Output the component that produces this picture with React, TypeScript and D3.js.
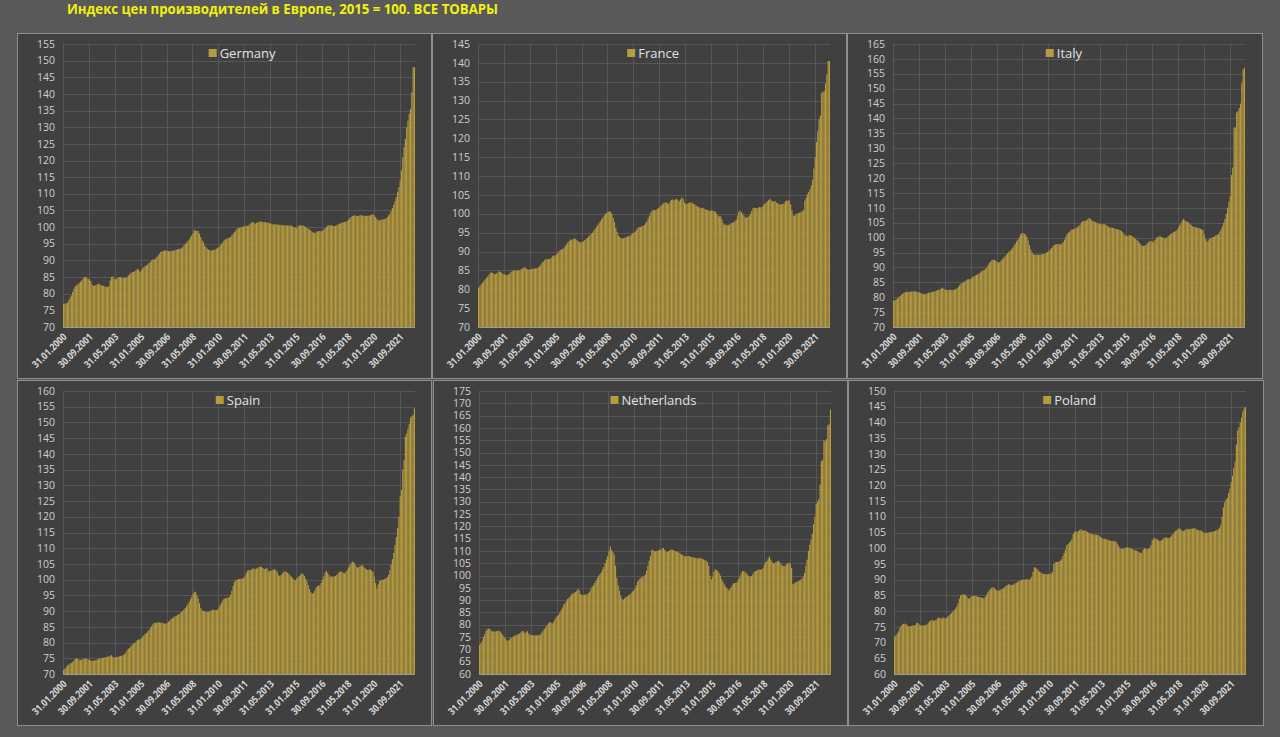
import React from 'react';
import * as d3 from 'd3';

// monthly PPI, 2015 = 100, Jan 2000 .. Aug 2022
const germany = [
    77.0, 77.0, 77.1, 77.3, 78.0, 78.8, 79.5, 80.5, 81.5, 82.2, 82.5, 82.8,
    83.2, 83.6, 84.0, 84.5, 85.0, 85.0, 84.7, 84.5, 84.3, 83.8, 82.8, 82.3,
    82.5, 82.5, 82.8, 83.0, 82.8, 82.5, 82.5, 82.3, 82.2, 82.0, 82.0, 82.3,
    84.0, 85.0, 85.2, 84.5, 84.3, 84.5, 84.8, 85.0, 85.0, 84.8, 84.7, 84.8,
    84.8, 85.0, 85.5, 85.8, 86.2, 86.5, 86.5, 86.8, 87.0, 87.5, 87.2, 86.5,
    87.0, 87.5, 88.0, 88.3, 88.5, 88.8, 89.2, 89.5, 90.0, 90.3, 90.3, 90.5,
    91.0, 91.5, 92.0, 92.5, 92.8, 92.8, 93.0, 93.0, 92.8, 92.8, 92.8, 92.8,
    92.8, 93.0, 93.0, 93.2, 93.3, 93.5, 93.5, 93.6, 94.0, 94.5, 95.0, 95.3,
    95.8, 96.3, 97.0, 97.5, 98.2, 99.0, 99.0, 98.8, 98.8, 98.0, 97.0, 96.0,
    95.5, 94.5, 94.0, 93.5, 93.2, 93.0, 93.0, 93.0, 93.2, 93.2, 93.5, 93.8,
    94.0, 94.5, 95.0, 95.5, 96.0, 96.3, 96.5, 96.7, 96.8, 97.0, 97.5, 98.0,
    98.5, 99.0, 99.5, 99.8, 99.8, 100.0, 100.0, 100.2, 100.3, 100.5, 100.3, 100.5,
    101.0, 101.3, 101.5, 101.3, 101.0, 101.2, 101.5, 101.6, 101.7, 101.6, 101.5, 101.5,
    101.5, 101.4, 101.3, 101.2, 101.0, 101.0, 100.8, 100.8, 100.9, 100.8, 100.7, 100.7,
    100.6, 100.6, 100.5, 100.5, 100.5, 100.5, 100.5, 100.5, 100.4, 100.2, 100.0, 99.8,
    99.7, 100.2, 100.5, 100.5, 100.5, 100.5, 100.3, 100.0, 99.8, 99.5, 99.3, 99.0,
    98.6, 98.3, 98.3, 98.4, 98.7, 98.8, 98.8, 98.8, 98.9, 99.3, 99.6, 100.0,
    100.5, 100.6, 100.5, 100.5, 100.4, 100.3, 100.4, 100.5, 100.8, 101.0, 101.2, 101.3,
    101.5, 101.5, 101.6, 101.8, 102.2, 102.6, 103.0, 103.3, 103.5, 103.5, 103.4, 103.3,
    103.4, 103.5, 103.6, 103.5, 103.4, 103.4, 103.4, 103.4, 103.4, 103.6, 103.7, 103.9,
    103.5, 103.0, 102.5, 102.0, 102.0, 102.2, 102.3, 102.3, 102.4, 102.6, 103.0, 103.5,
    104.0, 104.8, 105.7, 106.7, 107.8, 109.0, 110.5, 112.0, 114.0, 117.0, 121.0, 124.0,
    126.5, 130.0, 132.0, 134.0, 135.5, 140.5, 148.0, 148.0,
];

const france = [
    80.3, 80.8, 81.3, 81.7, 82.2, 82.6, 83.0, 83.4, 83.8, 84.3, 84.5, 84.3,
    84.0, 84.0, 84.2, 84.5, 84.8, 84.6, 84.3, 84.0, 84.0, 83.8, 83.8, 83.9,
    84.2, 84.5, 84.8, 84.9, 85.0, 84.9, 85.0, 85.0, 85.1, 85.3, 85.6, 85.8,
    85.8, 85.5, 85.2, 85.2, 85.3, 85.4, 85.4, 85.5, 85.5, 85.6, 85.8, 86.0,
    86.5, 87.0, 87.3, 87.7, 88.0, 88.0, 88.0, 88.0, 88.3, 88.7, 89.0, 88.8,
    89.2, 89.5, 90.0, 90.4, 90.5, 90.7, 91.0, 91.5, 92.0, 92.5, 92.8, 93.2,
    93.0, 93.3, 93.5, 93.3, 93.0, 92.7, 92.5, 92.5, 92.5, 92.7, 93.0, 93.3,
    93.6, 94.0, 94.3, 94.7, 95.0, 95.5, 96.0, 96.5, 97.0, 97.5, 98.0, 98.6,
    99.0, 99.5, 100.0, 100.3, 100.6, 100.7, 100.5, 100.0, 99.0, 97.8, 96.3, 95.2,
    94.3, 93.8, 93.6, 93.5, 93.5, 93.7, 93.8, 94.0, 94.0, 94.2, 94.5, 94.8,
    95.0, 95.3, 95.8, 96.2, 96.5, 96.5, 96.7, 96.8, 97.0, 97.5, 98.0, 98.8,
    99.5, 100.3, 100.8, 101.0, 101.0, 101.0, 101.3, 101.5, 101.8, 102.2, 102.5, 102.8,
    103.0, 103.0, 102.8, 102.5, 103.3, 103.7, 103.8, 103.6, 103.8, 104.0, 103.6, 103.3,
    103.8, 104.3, 104.0, 103.0, 102.6, 102.7, 102.8, 103.0, 103.0, 102.9, 102.6, 102.5,
    102.2, 102.0, 101.8, 101.6, 101.5, 101.6, 101.4, 101.2, 101.0, 101.0, 100.8, 100.8,
    100.9, 100.8, 100.7, 100.5, 100.0, 99.5, 99.3, 99.3, 98.5, 97.5, 97.0, 97.2,
    97.0, 97.0, 97.2, 97.5, 97.6, 97.8, 98.0, 98.5, 99.5, 100.5, 100.8, 100.5,
    100.0, 99.5, 99.0, 99.0, 99.2, 99.5, 100.0, 100.8, 101.5, 101.6, 101.5, 101.5,
    101.6, 101.8, 101.7, 101.8, 102.2, 102.6, 103.0, 103.3, 103.6, 104.0, 103.6, 103.2,
    103.3, 103.4, 103.0, 102.8, 102.6, 102.5, 102.5, 102.6, 102.7, 103.3, 103.5, 103.5,
    103.5, 102.5, 101.0, 99.5, 99.5, 99.8, 100.0, 100.2, 100.3, 100.5, 100.7, 101.0,
    103.5, 104.3, 105.2, 105.8, 106.5, 107.5, 109.0, 112.0, 115.0, 119.0, 122.0, 125.0,
    126.0, 132.0, 132.3, 132.5, 134.5, 137.0, 140.5, 140.5,
];

const italy = [
    78.8, 79.0, 79.3, 79.6, 80.0, 80.4, 80.8, 81.2, 81.5, 81.7, 81.8, 81.8,
    81.8, 81.8, 81.9, 82.0, 82.0, 81.9, 81.8, 81.7, 81.6, 81.4, 81.2, 81.1,
    81.0, 81.1, 81.3, 81.5, 81.6, 81.7, 81.8, 81.9, 82.0, 82.2, 82.4, 82.5,
    82.6, 83.0, 83.2, 82.8, 82.5, 82.4, 82.4, 82.5, 82.5, 82.4, 82.4, 82.5,
    82.7, 83.0, 83.5, 84.0, 84.5, 84.8, 85.0, 85.3, 85.6, 86.0, 86.0, 86.0,
    86.3, 86.7, 87.0, 87.3, 87.5, 87.7, 88.0, 88.3, 88.7, 89.0, 89.2, 89.5,
    90.0, 90.8, 91.5, 92.0, 92.5, 92.7, 92.5, 92.2, 91.8, 91.6, 91.8, 92.2,
    92.7, 93.2, 93.7, 94.2, 94.7, 95.2, 95.6, 96.0, 96.6, 97.3, 98.0, 98.7,
    99.3, 100.0, 101.0, 101.5, 101.5, 101.3, 101.0, 100.2, 99.0, 97.5, 96.0, 95.0,
    94.5, 94.2, 94.2, 94.3, 94.2, 94.3, 94.3, 94.5, 94.5, 94.6, 95.0, 95.2,
    95.5, 96.0, 96.5, 97.0, 97.5, 97.7, 97.8, 97.8, 97.8, 97.7, 98.0, 98.5,
    99.3, 100.3, 101.2, 101.6, 102.0, 102.5, 102.8, 102.8, 103.0, 103.3, 103.5, 103.8,
    104.3, 105.0, 105.5, 105.6, 105.6, 105.8, 106.2, 106.6, 106.3, 105.8, 105.5, 105.4,
    105.2, 105.0, 104.8, 104.7, 104.5, 104.5, 104.5, 104.5, 104.3, 104.0, 103.6, 103.4,
    103.4, 103.3, 103.2, 103.0, 103.0, 102.8, 102.7, 102.5, 102.3, 101.8, 101.2, 100.8,
    100.5, 100.6, 100.8, 100.8, 100.6, 100.3, 100.0, 99.6, 99.2, 98.8, 98.2, 97.7,
    97.3, 97.2, 97.3, 97.6, 98.0, 98.5, 98.8, 98.8, 98.6, 98.7, 99.2, 99.8,
    100.2, 100.5, 100.4, 100.2, 100.0, 99.8, 99.8, 100.0, 100.4, 100.8, 101.2, 101.5,
    101.8, 102.0, 102.2, 102.6, 103.3, 104.2, 104.8, 105.8, 106.3, 105.8, 105.5, 105.3,
    105.0, 104.6, 104.2, 103.8, 103.6, 103.5, 103.4, 103.3, 103.2, 103.0, 102.8, 102.5,
    101.0, 99.5, 98.6, 99.0, 99.5, 99.8, 100.0, 100.2, 100.5, 100.8, 101.0, 101.2,
    102.0, 102.8, 103.8, 105.0, 106.3, 108.0, 110.0, 112.0, 114.0, 121.0, 123.5, 137.0,
    137.0, 142.0, 142.5, 143.5, 145.0, 152.0, 156.5, 157.0,
];

const spain = [
    71.3, 71.7, 72.2, 72.7, 73.0, 73.3, 73.5, 73.8, 74.3, 74.8, 75.0, 74.8,
    74.5, 74.4, 74.6, 74.7, 74.8, 75.0, 74.8, 74.6, 74.5, 74.3, 74.2, 74.2,
    74.3, 74.4, 74.6, 74.8, 75.0, 75.0, 75.1, 75.2, 75.3, 75.4, 75.5, 75.6,
    75.8, 76.0, 75.5, 75.2, 75.3, 75.4, 75.5, 75.6, 75.7, 75.8, 76.0, 76.3,
    76.8, 77.5, 78.0, 78.3, 78.8, 79.3, 79.7, 79.8, 80.3, 80.8, 81.0, 81.0,
    81.3, 81.8, 82.3, 82.8, 83.0, 83.5, 84.0, 84.6, 85.2, 85.8, 86.2, 86.3,
    86.3, 86.5, 86.4, 86.3, 86.3, 86.2, 86.0, 86.0, 86.2, 86.6, 87.0, 87.4,
    87.7, 88.0, 88.3, 88.5, 88.8, 89.0, 89.3, 89.7, 90.0, 90.5, 91.0, 91.6,
    92.2, 93.0, 93.8, 94.6, 95.5, 96.2, 96.0, 95.0, 94.0, 92.5, 91.0, 90.3,
    90.1, 90.0, 89.8, 89.7, 89.8, 90.0, 90.2, 90.4, 90.4, 90.3, 90.3, 90.5,
    91.2, 92.0, 92.7, 93.5, 94.0, 94.0, 94.2, 94.3, 94.5, 95.2, 96.5, 98.0,
    99.3, 99.8, 100.0, 100.2, 100.2, 100.3, 100.4, 100.6, 101.0, 102.0, 102.8, 103.0,
    103.0, 103.2, 103.5, 103.6, 103.3, 103.5, 103.8, 104.0, 104.2, 104.0, 103.7, 103.3,
    103.5, 103.8, 103.0, 102.6, 102.8, 103.0, 103.2, 103.3, 103.0, 102.5, 101.4, 101.2,
    101.5, 102.0, 102.5, 102.6, 102.5, 102.2, 101.8, 101.3, 101.0, 100.5, 100.0, 99.8,
    100.3, 100.8, 101.2, 101.5, 102.0, 101.8, 101.2, 100.3, 99.5, 98.3, 97.0, 96.0,
    95.5, 95.8, 96.5, 97.5, 98.0, 98.0, 98.3, 99.0, 100.0, 101.0, 102.3, 102.8,
    102.2, 101.5, 101.0, 101.0, 101.0, 101.0, 101.2, 101.5, 102.0, 102.5, 102.6, 102.5,
    102.2, 102.0, 102.5, 103.0, 103.8, 104.5, 105.2, 105.8, 105.6, 105.0, 104.2, 103.8,
    104.0, 104.3, 104.5, 104.6, 104.0, 103.6, 103.3, 103.0, 103.2, 103.3, 102.8, 102.5,
    101.0, 99.0, 97.2, 98.5, 99.5, 99.8, 100.0, 100.0, 100.2, 100.5, 100.8, 101.5,
    103.0, 104.8, 106.5, 108.5, 111.0, 113.5, 116.5, 120.0, 126.5, 128.5, 135.0, 138.0,
    145.5, 146.5, 148.0, 149.5, 151.5, 152.0, 152.5, 154.5,
];

const netherlands = [
    71.8, 72.5, 73.5, 75.0, 76.2, 77.5, 78.2, 78.5, 78.3, 77.6, 77.3, 77.3,
    77.3, 77.4, 77.5, 77.6, 77.2, 76.5, 75.8, 75.0, 74.3, 73.6, 73.5, 74.0,
    74.5, 74.8, 75.2, 75.5, 75.8, 76.0, 76.2, 76.5, 77.0, 77.5, 77.3, 76.5,
    77.0, 77.5, 76.5, 76.0, 75.8, 75.8, 75.8, 75.6, 75.7, 75.9, 75.8, 76.0,
    76.8, 77.5, 78.2, 79.0, 79.8, 80.5, 81.0, 81.0, 80.5, 81.0, 82.0, 83.0,
    83.5, 84.0, 85.0, 86.0, 87.0, 88.3, 88.6, 89.5, 90.5, 91.0, 91.5, 92.3,
    92.8, 93.0, 93.3, 93.8, 94.5, 94.0, 92.5, 92.2, 92.0, 92.2, 92.3, 92.5,
    92.8, 93.5, 94.5, 95.5, 96.2, 97.0, 98.0, 99.0, 100.0, 100.5, 101.3, 102.5,
    103.5, 105.0, 106.5, 108.0, 110.0, 111.8, 110.5, 109.5, 108.5, 104.0, 99.0, 96.0,
    94.0, 92.0, 90.5, 90.2, 90.8, 91.3, 91.5, 92.0, 92.3, 92.8, 93.5, 94.0,
    94.5, 96.0, 97.5, 98.3, 98.8, 99.3, 99.5, 99.7, 100.5, 102.0, 104.0, 106.0,
    108.0, 110.5, 110.3, 110.0, 109.8, 110.0, 110.2, 110.5, 110.5, 111.0, 111.2, 110.5,
    109.8, 109.5, 110.0, 110.3, 110.6, 110.5, 110.3, 110.0, 109.8, 109.6, 109.3, 109.0,
    108.5, 108.3, 108.0, 107.8, 107.8, 107.9, 108.0, 107.6, 107.5, 107.4, 107.3, 107.2,
    107.0, 107.0, 107.2, 107.0, 106.8, 106.5, 106.3, 106.0, 105.5, 104.0, 100.0, 98.5,
    99.5, 101.5, 102.5, 102.3, 101.8, 101.0, 100.0, 98.5, 97.5, 96.5, 95.5, 94.8,
    94.3, 94.0, 95.0, 96.0, 96.8, 97.0, 97.0, 97.5, 98.5, 99.5, 100.8, 101.8,
    101.8, 101.5, 101.0, 100.3, 99.8, 99.5, 99.8, 100.5, 101.3, 101.8, 102.0, 102.3,
    102.5, 102.3, 102.6, 103.0, 104.5, 105.5, 106.0, 107.0, 107.8, 106.5, 105.5, 105.0,
    105.0, 105.5, 105.8, 106.0, 105.2, 104.5, 104.0, 103.8, 104.0, 104.5, 105.0, 105.2,
    104.8, 103.0, 96.5, 96.8, 97.2, 97.5, 97.8, 98.0, 98.3, 98.8, 99.5, 101.0,
    104.0, 106.5, 110.0, 112.5, 114.5, 117.0, 121.0, 124.0, 129.0, 130.0, 131.0, 137.0,
    146.5, 147.0, 155.0, 154.5, 155.5, 161.0, 161.5, 167.5,
];

const poland = [
    71.8, 72.3, 72.8, 73.5, 74.5, 75.3, 75.7, 76.0, 76.0, 75.8, 75.4, 75.2,
    75.2, 75.3, 75.4, 75.5, 75.6, 76.2, 76.3, 75.8, 75.5, 75.4, 75.5, 75.5,
    75.6, 75.8, 76.2, 76.8, 77.0, 77.1, 77.0, 77.0, 77.2, 77.6, 78.0, 77.8,
    77.6, 77.8, 78.0, 77.6, 77.8, 78.2, 78.6, 79.0, 79.4, 79.8, 80.3, 80.8,
    81.5, 82.5, 84.0, 85.0, 85.2, 85.3, 85.3, 85.0, 84.5, 84.0, 84.0, 84.5,
    84.8, 84.8, 84.9, 84.8, 84.6, 84.5, 84.5, 84.3, 84.2, 84.0, 84.5, 85.2,
    86.0, 86.5, 87.0, 87.5, 87.6, 87.4, 87.0, 86.6, 86.5, 86.6, 86.8, 87.0,
    87.3, 87.6, 88.0, 88.3, 88.5, 88.5, 88.3, 88.3, 88.5, 88.8, 89.0, 89.3,
    89.5, 89.7, 89.9, 90.0, 90.0, 90.0, 90.2, 90.0, 90.0, 90.3, 91.0, 92.5,
    94.0, 93.8, 93.5, 93.0, 92.5, 92.3, 92.0, 91.8, 91.8, 91.8, 91.7, 91.8,
    91.9, 92.0, 92.5, 95.0, 95.5, 95.6, 95.6, 95.8, 96.0, 96.5, 97.5, 98.5,
    99.5, 101.0, 101.3, 101.8, 102.2, 103.0, 104.5, 105.2, 105.4, 105.0, 105.5, 105.8,
    106.0, 105.7, 105.5, 105.8, 105.5, 105.2, 104.9, 104.7, 104.5, 104.4, 104.4, 104.3,
    104.3, 104.2, 104.0, 103.6, 103.3, 103.0, 103.0, 103.0, 102.8, 102.6, 102.5, 102.4,
    102.3, 102.2, 102.3, 102.0, 101.5, 100.8, 100.0, 99.8, 99.8, 99.9, 100.0, 100.3,
    100.3, 100.2, 100.0, 99.8, 99.7, 99.5, 99.3, 99.2, 99.0, 98.7, 98.5, 98.6,
    99.5, 100.0, 99.8, 99.7, 99.8, 100.2, 101.0, 102.5, 103.0, 103.3, 103.0, 102.8,
    102.5, 102.3, 102.5, 102.8, 103.2, 103.5, 103.3, 103.3, 103.2, 103.5, 104.0, 104.5,
    105.0, 105.5, 105.8, 106.2, 106.3, 106.0, 105.6, 105.5, 105.7, 106.0, 106.2, 106.0,
    106.1, 106.2, 106.3, 106.3, 106.4, 106.0, 105.8, 105.7, 105.6, 105.6, 105.3, 105.0,
    104.8, 104.9, 105.0, 105.0, 105.1, 105.2, 105.3, 105.4, 105.6, 105.8, 106.0, 106.5,
    107.5, 110.0, 113.0, 114.5, 115.5, 116.0, 117.5, 119.0, 121.0, 123.0, 125.5, 127.5,
    133.0, 137.5, 138.5, 140.0, 141.5, 143.5, 144.5, 145.0,
];

const tickLabels = [
    '31.01.2000', '30.09.2001', '31.05.2003', '31.01.2005', '30.09.2006', '31.05.2008', '31.01.2010',
    '30.09.2011', '31.05.2013', '31.01.2015', '30.09.2016', '31.05.2018', '31.01.2020', '30.09.2021',
];
const tickStep = 20; // one label every 20 months

const countries = ['Germany', 'France', 'Italy', 'Spain', 'Netherlands', 'Poland'];
const seriesList = [germany, france, italy, spain, netherlands, poland];
const yDomains: [number, number][] = [[70, 155], [70, 145], [70, 165], [70, 160], [60, 175], [60, 150]];

const title = 'Индекс цен производителей в Европе, 2015 = 100. ВСЕ ТОВАРЫ';

const W = 1280;
const H = 737;
const font = '"Open Sans", "Noto Sans", sans-serif';

// panel frames (grid of 3 x 2)
const colX = [17, 432, 847];
const colW = [415, 415, 416];
const rowY = [33, 380];
const rowH = 346;

const Panel = ({ idx }: { idx: number }) => {
    const col = idx % 3;
    const row = Math.floor(idx / 3);
    const px = colX[col] + (row === 1 && col > 0 ? 1 : 0);
    const py = rowY[row];
    const data = seriesList[idx];

    const left = px + 46;
    const right = left + 352;
    const top = py + 11;
    const bottom = py + 294;

    const x = d3.scaleBand<number>()
        .domain(d3.range(data.length))
        .range([left, right])
        .paddingInner(0.12);
    const y = d3.scaleLinear().domain(yDomains[idx]).range([bottom, top]);
    const yTicks = d3.range(yDomains[idx][0], yDomains[idx][1] + 1, 5);
    const step = x.step();
    const tickX = (i: number) => left + i * tickStep * step;

    const name = countries[idx];
    const legendW = 11 + name.length * 7.1;
    const legendX = (left + right) / 2 - legendW / 2;

    return (
        <g>
            <rect x={px + 0.5} y={py + 0.5} width={colW[col] - 1} height={rowH - 1}
                fill="#404040" stroke="#8e8e8e" strokeWidth={1} />
            {yTicks.map(t => (
                <line key={'h' + t} x1={left} x2={right} y1={Math.round(y(t)) + 0.5} y2={Math.round(y(t)) + 0.5}
                    stroke="#575757" strokeWidth={1} />
            ))}
            {tickLabels.map((_, i) => (
                <line key={'v' + i} x1={Math.round(tickX(i)) + 0.5} x2={Math.round(tickX(i)) + 0.5} y1={top} y2={bottom}
                    stroke="#575757" strokeWidth={1} />
            ))}
            {data.map((v, i) => (
                <rect key={i} x={x(i)} y={y(v)} width={x.bandwidth()} height={bottom - y(v)} fill="#b79b3f" />
            ))}
            <line x1={left} x2={right} y1={bottom + 0.5} y2={bottom + 0.5} stroke="#9a9a9a" strokeWidth={1} />
            {yTicks.map(t => (
                <text key={'yl' + t} x={left - 8} y={y(t)} dy="0.35em" textAnchor="end"
                    fill="#cfcfcf" fontSize={10.5} fontFamily={font}>{t}</text>
            ))}
            {tickLabels.map((lab, i) => (
                <text key={'xl' + i} transform={`translate(${tickX(i) + 2},${bottom + 8}) rotate(-45)`}
                    textAnchor="end" dy="0.35em" fill="#d6d6d6" fontSize={10} fontWeight="bold"
                    fontFamily={font} textLength={44} lengthAdjust="spacingAndGlyphs">{lab}</text>
            ))}
            <rect x={legendX} y={py + 16} width={8} height={8} fill="#b79b3f" />
            <text x={legendX + 11} y={py + 20} dy="0.35em" fill="#e2e2e2" fontSize={13} fontFamily={font}>{name}</text>
        </g>
    );
};

const App = () => {
    return (
        <div style={{ position: 'fixed', left: 0, top: 0 }}>
            <svg width={W} height={H} style={{ display: 'block' }}>
                <rect width={W} height={H} fill="#595959" />
                <text x={67} y={9} dy="0.35em" fill="#f2f20a" fontSize={14} fontWeight="bold"
                    fontFamily={font} textLength={431} lengthAdjust="spacingAndGlyphs">{title}</text>
                {countries.map((_, i) => <Panel key={i} idx={i} />)}
            </svg>
        </div>
    );
};

export default App;
